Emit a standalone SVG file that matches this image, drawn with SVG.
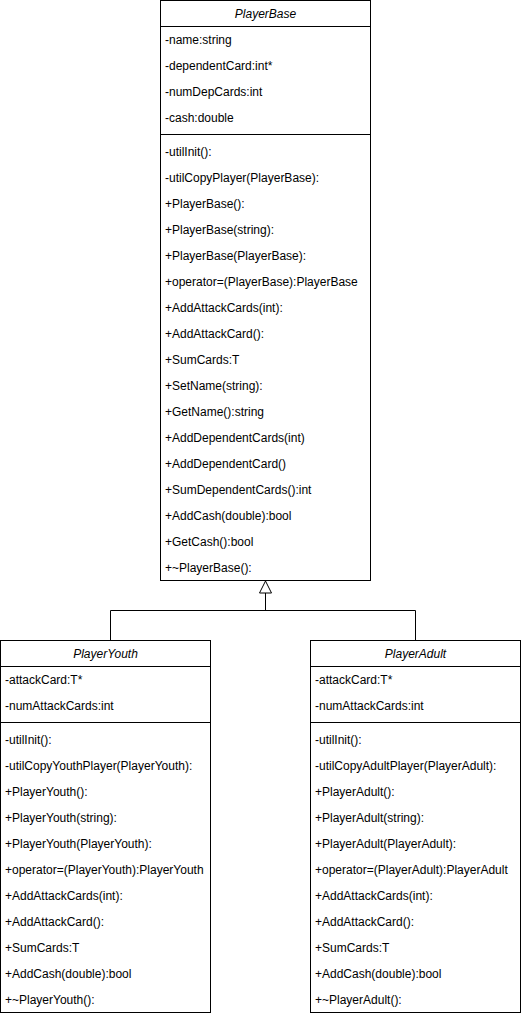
<svg xmlns="http://www.w3.org/2000/svg" width="521" height="1016" viewBox="0 0 521 1016">
<style>
.box{fill:#fff;stroke:#000;stroke-width:1}
.ln{stroke:#000;stroke-width:1;fill:none}
text{font-family:"Liberation Sans",Arial,sans-serif;font-size:12px;fill:#000}
.t{font-style:italic;text-anchor:middle}
</style>
<rect width="521" height="1016" fill="#fff"/>
<g id="connectors">
<polyline class="ln" points="110.5,640 110.5,610.5 415.5,610.5 415.5,640"/>
<line class="ln" x1="265.5" y1="610.5" x2="265.5" y2="593"/>
<polygon points="265.5,581 271.5,593 259.5,593" fill="#fff" stroke="#000" stroke-width="1"/>
</g>
<g id="PlayerBase">
<rect class="box" x="160.5" y="0.5" width="210" height="580"/>
<line class="ln" x1="160.5" y1="26.5" x2="370.5" y2="26.5"/>
<line class="ln" x1="160.5" y1="134.5" x2="370.5" y2="134.5"/>
<text class="t" x="265.5" y="18">PlayerBase</text>
<text x="165" y="44">-name:string</text>
<text x="165" y="70">-dependentCard:int*</text>
<text x="165" y="96">-numDepCards:int</text>
<text x="165" y="122">-cash:double</text>
<text x="165" y="156">-utilInit():</text>
<text x="165" y="182">-utilCopyPlayer(PlayerBase):</text>
<text x="165" y="208">+PlayerBase():</text>
<text x="165" y="234">+PlayerBase(string):</text>
<text x="165" y="260">+PlayerBase(PlayerBase):</text>
<text x="165" y="286">+operator=(PlayerBase):PlayerBase</text>
<text x="165" y="312">+AddAttackCards(int):</text>
<text x="165" y="338">+AddAttackCard():</text>
<text x="165" y="364">+SumCards:T</text>
<text x="165" y="390">+SetName(string):</text>
<text x="165" y="416">+GetName():string</text>
<text x="165" y="442">+AddDependentCards(int)</text>
<text x="165" y="468">+AddDependentCard()</text>
<text x="165" y="494">+SumDependentCards():int</text>
<text x="165" y="520">+AddCash(double):bool</text>
<text x="165" y="546">+GetCash():bool</text>
<text x="165" y="572">+~PlayerBase():</text>
</g>
<g id="PlayerYouth">
<rect class="box" x="0.5" y="640.5" width="210" height="372"/>
<line class="ln" x1="0.5" y1="666.5" x2="210.5" y2="666.5"/>
<line class="ln" x1="0.5" y1="722.5" x2="210.5" y2="722.5"/>
<text class="t" x="105.5" y="658">PlayerYouth</text>
<text x="5" y="684">-attackCard:T*</text>
<text x="5" y="710">-numAttackCards:int</text>
<text x="5" y="744">-utilInit():</text>
<text x="5" y="770">-utilCopyYouthPlayer(PlayerYouth):</text>
<text x="5" y="796">+PlayerYouth():</text>
<text x="5" y="822">+PlayerYouth(string):</text>
<text x="5" y="848">+PlayerYouth(PlayerYouth):</text>
<text x="5" y="874">+operator=(PlayerYouth):PlayerYouth</text>
<text x="5" y="900">+AddAttackCards(int):</text>
<text x="5" y="926">+AddAttackCard():</text>
<text x="5" y="952">+SumCards:T</text>
<text x="5" y="978">+AddCash(double):bool</text>
<text x="5" y="1004">+~PlayerYouth():</text>
</g>
<g id="PlayerAdult">
<rect class="box" x="310.5" y="640.5" width="210" height="372"/>
<line class="ln" x1="310.5" y1="666.5" x2="520.5" y2="666.5"/>
<line class="ln" x1="310.5" y1="722.5" x2="520.5" y2="722.5"/>
<text class="t" x="415.5" y="658">PlayerAdult</text>
<text x="315" y="684">-attackCard:T*</text>
<text x="315" y="710">-numAttackCards:int</text>
<text x="315" y="744">-utilInit():</text>
<text x="315" y="770">-utilCopyAdultPlayer(PlayerAdult):</text>
<text x="315" y="796">+PlayerAdult():</text>
<text x="315" y="822">+PlayerAdult(string):</text>
<text x="315" y="848">+PlayerAdult(PlayerAdult):</text>
<text x="315" y="874">+operator=(PlayerAdult):PlayerAdult</text>
<text x="315" y="900">+AddAttackCards(int):</text>
<text x="315" y="926">+AddAttackCard():</text>
<text x="315" y="952">+SumCards:T</text>
<text x="315" y="978">+AddCash(double):bool</text>
<text x="315" y="1004">+~PlayerAdult():</text>
</g>
</svg>
